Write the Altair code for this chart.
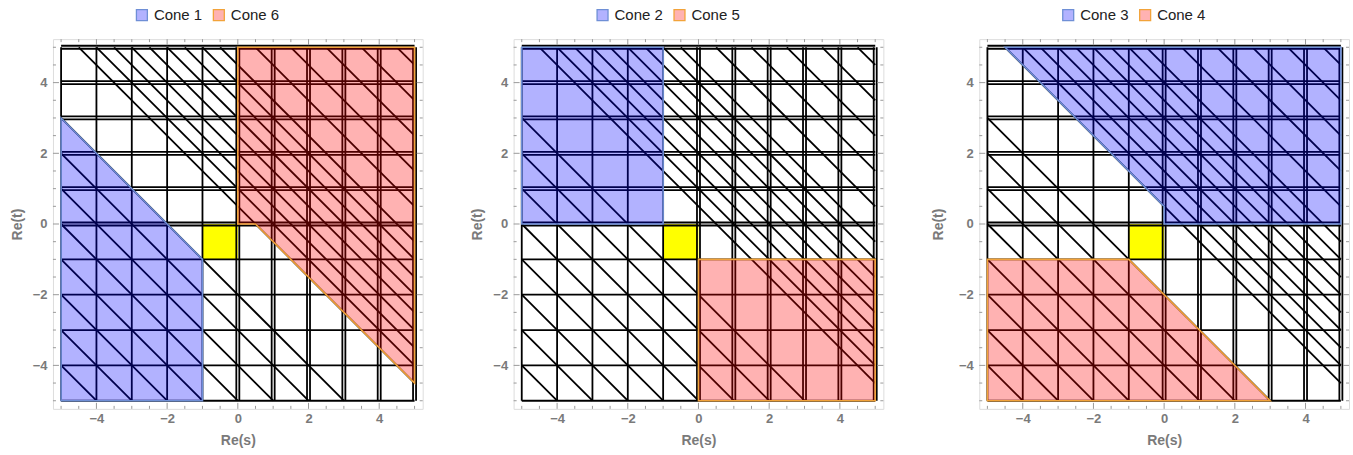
import altair as alt
import pandas as pd

# ---------------- data ----------------
W = H = 370
DOMAIN = [-5.23, 5.23]
BOX = (-5, 5)

grid_single = [-5, -4, -3, -2, -1]          # s=n / t=n single singular lines
grid_double = [0, 1, 2, 3, 4, 5]            # doubled singular lines
double_gap = 0.085
diag_int_neg = [-2, -3, -4, -5, -6, -7, -8, -9]       # s+t = k
diag_half = [0.5, 1.5, 2.5, 3.5, 4.5, 5.5, 6.5, 7.5, 8.5, 9.5]
diag_int_pos = [1, 2, 3, 4]

tick_major = [-4, -2, 0, 2, 4]
tick_minor = [-5, -4.5, -3.5, -3, -2.5, -1.5, -1, -0.5, 0.5, 1, 1.5, 2.5, 3, 3.5, 4.5, 5]

cones = {
    "Cone 1": {"s": [-5, -1], "top": [3, -1], "bot": [-5, -5]},
    "Cone 6": {"s": [0, 0.5, 5], "top": [5, 5, 5], "bot": [0, 0, -4.5]},
    "Cone 2": {"s": [-5, -1], "top": [5, 5], "bot": [0, 0]},
    "Cone 5": {"s": [0, 5], "top": [-1, -1], "bot": [-5, -5]},
    "Cone 3": {"s": [-4.5, 0, 0, 5], "top": [5, 5, 5, 5], "bot": [5, 0.5, 0, 0]},
    "Cone 4": {"s": [-5, -1, 3], "top": [-1, -1, -5], "bot": [-5, -5, -5]},
}
panels = [("Cone 1", "Cone 6"), ("Cone 2", "Cone 5"), ("Cone 3", "Cone 4")]
contour_square = {"s0": [-1], "s1": [0], "t0": [-1], "t1": [0]}

BLUE_FILL, BLUE_EDGE = "#0000ff", "#6f8fd6"
RED_FILL, RED_EDGE = "#ff0000", "#f2a33a"
LINE = "#000000"
GRAY = "#7a7a7a"

# ---------------- segments ----------------
segs = []
for n in grid_single:
    segs.append((n, BOX[0], n, BOX[1]))
    segs.append((BOX[0], n, BOX[1], n))
for n in grid_double:
    for d in (-double_gap / 2, double_gap / 2):
        segs.append((n + d, BOX[0], n + d, BOX[1]))
        segs.append((BOX[0], n + d, BOX[1], n + d))


def diag(c):
    s0, s1 = max(BOX[0], c - BOX[1]), min(BOX[1], c - BOX[0])
    if s0 < s1:
        segs.append((s0, c - s0, s1, c - s1))


for k in diag_int_neg + diag_half + diag_int_pos:
    diag(k)

seg_df = pd.DataFrame(segs, columns=["x1", "y1", "x2", "y2"])

xs = alt.Scale(domain=DOMAIN, nice=False, zero=False)
ys = alt.Scale(domain=DOMAIN, nice=False, zero=False)


def panel(names, first_pad):
    lines = alt.Chart(seg_df).mark_rule(color=LINE, strokeWidth=1.8).encode(
        x=alt.X("x1:Q", scale=xs, title="Re(s)",
                axis=alt.Axis(values=tick_major, ticks=False, domain=False, grid=False,
                              labelColor=GRAY, labelFontSize=13, labelFontWeight="bold",
                              labelFont="Liberation Sans", labelPadding=4,
                              titleColor=GRAY, titleFontSize=14, titleFont="Liberation Sans",
                              titleFontWeight="bold", titlePadding=8)),
        y=alt.Y("y1:Q", scale=ys, title="Re(t)",
                axis=alt.Axis(values=tick_major, ticks=False, domain=False, grid=False,
                              labelColor=GRAY, labelFontSize=13, labelFontWeight="bold",
                              labelFont="Liberation Sans", labelPadding=6,
                              titleColor=GRAY, titleFontSize=14, titleFont="Liberation Sans",
                              titleFontWeight="bold", titlePadding=first_pad)),
        x2="x2:Q", y2="y2:Q",
    )
    sq = pd.DataFrame(contour_square)
    yellow = alt.Chart(sq).mark_rect(color="#ffff00", opacity=1).encode(
        x=alt.X("s0:Q", scale=xs), x2="s1:Q", y=alt.Y("t0:Q", scale=ys), y2="t1:Q")

    layers = [yellow, lines]
    for name, fill, edge in ((names[0], BLUE_FILL, BLUE_EDGE), (names[1], RED_FILL, RED_EDGE)):
        c = cones[name]
        df = pd.DataFrame({"s": c["s"], "top": c["top"], "bot": c["bot"]})
        layers.append(alt.Chart(df).mark_area(fill=fill, fillOpacity=0.3, stroke=edge,
                                               strokeWidth=1.6, interpolate="linear").encode(
            x=alt.X("s:Q", scale=xs), y=alt.Y("top:Q", scale=ys), y2="bot:Q"))

    # frame ticks (inward)
    maj = pd.DataFrame({"p": tick_major})
    mnr = pd.DataFrame({"p": tick_minor})
    for dfp, ln in ((maj, 6), (mnr, 3)):
        layers.append(alt.Chart(dfp).mark_rule(color="#9a9a9a", strokeWidth=1).encode(
            x=alt.X("p:Q", scale=xs), y=alt.value(H), y2=alt.value(H - ln)))
        layers.append(alt.Chart(dfp).mark_rule(color="#9a9a9a", strokeWidth=1).encode(
            x=alt.X("p:Q", scale=xs), y=alt.value(0), y2=alt.value(ln)))
        layers.append(alt.Chart(dfp).mark_rule(color="#9a9a9a", strokeWidth=1).encode(
            y=alt.Y("p:Q", scale=ys), x=alt.value(0), x2=alt.value(ln)))
        layers.append(alt.Chart(dfp).mark_rule(color="#9a9a9a", strokeWidth=1).encode(
            y=alt.Y("p:Q", scale=ys), x=alt.value(W), x2=alt.value(W - ln)))

    # legend
    leg = pd.DataFrame({"name": list(names), "fill": [BLUE_FILL, RED_FILL],
                        "edge": [BLUE_EDGE, RED_EDGE], "sx": [89, 166], "tx": [101, 178]})
    layers.append(alt.Chart(leg).mark_square(size=120, fillOpacity=0.3, strokeWidth=1.3,
                                             opacity=1).encode(
        x=alt.X("sx:Q", scale=None), y=alt.value(-24),
        fill=alt.Fill("fill:N", scale=None), stroke=alt.Stroke("edge:N", scale=None)))
    layers.append(alt.Chart(leg).mark_text(align="left", baseline="middle", fontSize=15,
                                           font="Liberation Sans", color="#222222").encode(
        x=alt.X("tx:Q", scale=None), y=alt.value(-24), text="name:N"))

    return alt.layer(*layers).properties(width=W, height=H)


chart = alt.hconcat(panel(panels[0], 8), panel(panels[1], 8), panel(panels[2], 13),
                    spacing=46).properties(
    padding={"left": 9, "top": 6, "right": 3, "bottom": 5}
).configure_view(stroke="#a0a0a0", strokeWidth=1).configure(background="white")

chart.save("out.html", embed_options={"renderer": "svg", "actions": False})
